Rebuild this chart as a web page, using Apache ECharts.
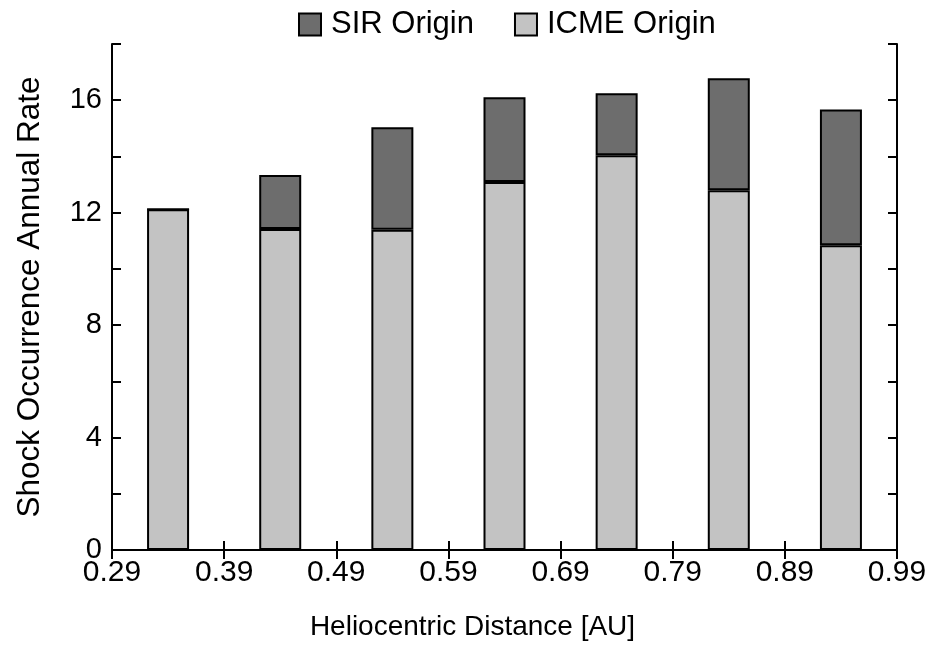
<!DOCTYPE html>
<html>
<head>
<meta charset="utf-8">
<script src="https://cdn.jsdelivr.net/npm/echarts@6/dist/echarts.min.js"></script>
<style>html,body{margin:0;padding:0;background:#fff;}#c{width:944px;height:646px;}</style>
</head>
<body>
<div id="c"></div>
<script>
// Data
var distances = ['0.34', '0.44', '0.54', '0.64', '0.74', '0.84', '0.94']; // bar centres [AU]
var icmeRate  = [12.12, 11.42, 11.39, 13.09, 14.04, 12.80, 10.84];         // ICME origin
var sirRate   = [0, 1.92, 3.65, 3.02, 2.21, 3.98, 4.83];                     // SIR origin (stacked on top)
var seriesNames = ['SIR Origin', 'ICME Origin'];
var xTickLabels = ['0.29', '0.39', '0.49', '0.59', '0.69', '0.79', '0.89', '0.99'];
var yTickLabels = ['0', '4', '8', '12', '16'];

var FONT = 'Liberation Sans, Arial, Helvetica, sans-serif';
var chart = echarts.init(document.getElementById('c'), null, {renderer: 'canvas'});

var axisLine = {show: true, lineStyle: {color: '#000', width: 2}};
var option = {
  backgroundColor: '#fff',
  animation: false,
  textStyle: {fontFamily: FONT, color: '#000'},
  legend: {
    data: seriesNames,
    top: 4,
    left: 293,
    itemWidth: 22,
    itemHeight: 22,
    itemGap: 40,
    textStyle: {fontSize: 31, color: '#000', fontFamily: FONT, padding: [0, 0, 0, 5]},
    icon: 'rect'
  },
  grid: {left: 112, right: 47, top: 44, bottom: 93, containLabel: false},
  xAxis: [{
    type: 'value', position: 'bottom',
    min: 0.29, max: 0.99, interval: 0.1,
    name: 'Heliocentric Distance [AU]', nameLocation: 'middle', nameGap: 63,
    nameTextStyle: {fontSize: 28, color: '#000', fontFamily: FONT, padding: [0, 64, 0, 0]},
    axisLine: axisLine,
    axisTick: {show: true, inside: true, length: 9, lineStyle: {color: '#000', width: 2}},
    axisLabel: {fontSize: 30, color: '#000', margin: 8, fontFamily: FONT,
      formatter: function (v) {
        var i = Math.round((v - 0.29) / 0.1);
        return xTickLabels[i] !== undefined ? xTickLabels[i] : '';
      }},
    splitLine: {show: false}
  }, {
    type: 'value', position: 'top',
    min: 0.29, max: 0.99, interval: 0.1,
    axisLine: axisLine,
    axisTick: {show: true, inside: true, length: 9, lineStyle: {color: '#000', width: 2}},
    axisLabel: {show: false},
    splitLine: {show: false}
  }, {
    // hidden band axis: each bar occupies one 0.1 AU band between the ticks
    type: 'category', position: 'bottom', data: distances,
    boundaryGap: true, show: false
  }],
  yAxis: [{
    type: 'value', position: 'left',
    min: 0, max: 18, interval: 2,
    name: 'Shock Occurrence Annual Rate', nameLocation: 'middle', nameGap: 66,
    nameTextStyle: {fontSize: 31.5, color: '#000', fontFamily: FONT},
    axisLine: axisLine,
    axisTick: {show: true, inside: true, length: 9, lineStyle: {color: '#000', width: 2}},
    axisLabel: {fontSize: 29, color: '#000', margin: 10, fontFamily: FONT,
      formatter: function (v) {
        var s = String(Math.round(v));
        return yTickLabels.indexOf(s) >= 0 ? s : '';
      }},
    splitLine: {show: false}
  }, {
    type: 'value', position: 'right',
    min: 0, max: 18, interval: 2,
    axisLine: axisLine,
    axisTick: {show: true, inside: true, length: 9, lineStyle: {color: '#000', width: 2}},
    axisLabel: {show: false},
    splitLine: {show: false}
  }],
  series: [{
    name: 'ICME Origin', type: 'bar', stack: 'rate',
    xAxisIndex: 2, yAxisIndex: 0,
    barWidth: 42,
    itemStyle: {color: '#c3c3c3', borderColor: '#000', borderWidth: 2},
    data: icmeRate
  }, {
    name: 'SIR Origin', type: 'bar', stack: 'rate',
    xAxisIndex: 2, yAxisIndex: 0,
    barWidth: 42,
    itemStyle: {color: '#6d6d6d', borderColor: '#000', borderWidth: 2},
    data: sirRate
  }]
};
chart.setOption(option);
</script>
</body>
</html>
